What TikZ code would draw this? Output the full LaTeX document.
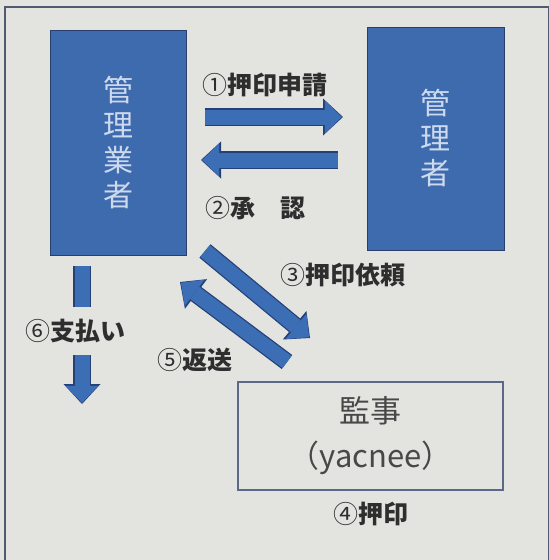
\documentclass[tikz,border=0pt]{standalone}
\usepackage{fontspec}
\setmainfont{Noto Sans CJK JP}
\usetikzlibrary{arrows.meta,positioning}

\definecolor{paper}{RGB}{227,227,224}
\definecolor{boxblue}{RGB}{62,106,174}
\definecolor{boxedge}{RGB}{40,62,108}
\definecolor{arrowblue}{RGB}{60,110,182}
\definecolor{arrowedge}{RGB}{36,64,118}
\definecolor{boxtext}{RGB}{205,218,238}
\definecolor{framegray}{RGB}{80,90,112}
\definecolor{auditedge}{RGB}{92,104,136}
\definecolor{audittext}{RGB}{72,72,72}

\newcommand{\stepnum}[1]{{\mdseries #1}}

\tikzstyle{party_box} = [rectangle, draw=boxedge, line width=0.8pt, fill=boxblue, text=boxtext, inner sep=0pt, align=center, font=\fontsize{30}{35}\selectfont]
\tikzstyle{audit_box} = [rectangle, draw=auditedge, line width=1.2pt, text=audittext, inner sep=0pt, align=center, font=\fontsize{31}{45}\selectfont]
\tikzstyle{step_label} = [text=black!82, inner sep=1pt, font=\fontsize{25}{25}\selectfont\bfseries]
\tikzstyle{blockarrow} = [line width=15pt, draw=arrowblue, shorten >=1.2pt, -{Triangle[length=17pt, width=33pt, line width=0pt]},
    preaction={draw=arrowedge, line width=17.5pt, shorten >=0pt, -{Triangle[length=20pt, width=37pt, line width=0pt]}}]

\begin{document}
\begin{tikzpicture}[x=1pt, y=-1pt]
    \path[use as bounding box, fill=paper] (0,0) rectangle (549,560);
    \draw[framegray, line width=1.5pt] (5,7) rectangle (548.5,590);

    % parties
    \node (agent)   [party_box, minimum width=136pt, minimum height=225pt] at (118,142.5) {管\\理\\業\\者};
    \node (manager) [party_box, minimum width=137pt, minimum height=223pt] at (435.5,138.5) {管\\理\\者};
    \node (auditor) [audit_box, minimum width=265pt, minimum height=108pt] at (370.5,436) {監事\\（yacnee）};

    % step labels
    \node (lbl_request) [step_label] at (265,85) {\stepnum{①}押印申請};
    \node (lbl_approve) [step_label] at (255,208) {\stepnum{②}承　認};
    \node (lbl_ask)     [step_label] at (343,275) {\stepnum{③}押印依頼};
    \node (lbl_seal)    [step_label, below=10pt of auditor] {\stepnum{④}押印};
    \node (lbl_return)  [step_label] at (195,360) {\stepnum{⑤}返送};

    \coordinate (request_tail) at (205,117);
    \coordinate (request_head) at (343,117);
    \coordinate (approve_tail) at (338,160);
    \coordinate (approve_head) at (201,160);
    \coordinate (ask_tail)     at (205,251);
    \coordinate (ask_head)     at (310,338);
    \coordinate (return_tail)  at (287,362);
    \coordinate (return_head)  at (180,282);
    \coordinate (pay_tail)     at (82,266);
    \coordinate (pay_head)     at (82,404);

    \draw [blockarrow] (request_tail) -- (request_head);
    \draw [blockarrow] (approve_tail) -- (approve_head);
    \draw [blockarrow] (ask_tail) -- (ask_head);
    \draw [blockarrow] (return_tail) -- (return_head);
    \draw [blockarrow] (pay_tail) -- (pay_head);
    \node (lbl_pay) [step_label, fill=paper, minimum height=48pt] at (75,331) {\stepnum{⑥}支払い};
\end{tikzpicture}
\end{document}
